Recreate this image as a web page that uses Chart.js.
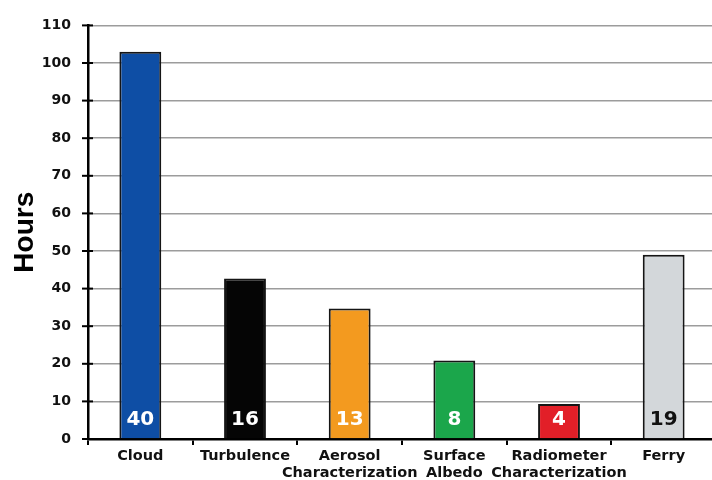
<!DOCTYPE html>
<html><head><meta charset="utf-8">
<script src="https://cdn.jsdelivr.net/npm/chart.js@4.4.1/dist/chart.umd.min.js"></script>
<style>
html,body{margin:0;padding:0;background:#fff;overflow:hidden;}
#wrap{width:720px;height:480px;position:relative;}
</style></head>
<body><div id="wrap"><canvas id="c"></canvas></div>
<script>
const categories = [['Cloud'], ['Turbulence'], ['Aerosol','Characterization'], ['Surface','Albedo'], ['Radiometer','Characterization'], ['Ferry']];
const hours = [103, 42.7, 34.7, 20.9, 9.3, 49.0];
const barLabels = ['40', '16', '13', '8', '4', '19'];
const barColors = ['#0e4ea5', '#050505', '#f39a1f', '#1ba64b', '#e21f28', '#d3d7da'];
const labelColors = ['#ffffff', '#ffffff', '#ffffff', '#ffffff', '#ffffff', '#111111'];
const yTitle = 'Hours';

const tickMarks = {
  id: 'tickMarks',
  afterDatasetsDraw(chart) {
    const y = chart.scales.y, ctx = chart.ctx;
    const ax = chart.chartArea.left;
    ctx.save();
    ctx.strokeStyle = '#000';
    ctx.lineWidth = 2;
    y.ticks.forEach(t => {
      const py = y.getPixelForValue(t.value);
      const major = t.value % 10 === 0;
      ctx.beginPath();
      ctx.moveTo(major ? ax - 6 : ax, py);
      ctx.lineTo(ax + 5, py);
      ctx.stroke();
    });
    const meta = chart.getDatasetMeta(0);
    const zero = y.getPixelForValue(0);
    ctx.font = 'bold 20px "DejaVu Sans"';
    ctx.textAlign = 'center';
    ctx.textBaseline = 'middle';
    meta.data.forEach((bar, i) => {
      ctx.fillStyle = labelColors[i];
      ctx.fillText(barLabels[i], bar.x, zero - 19);
    });
    ctx.restore();
  }
};

new Chart(document.getElementById('c'), {
  type: 'bar',
  data: {
    labels: categories,
    datasets: [{
      data: hours,
      backgroundColor: barColors,
      borderColor: '#151515',
      borderWidth: 2,
      barPercentage: 0.4,
      categoryPercentage: 1.0
    }]
  },
  options: {
    responsive: true,
    maintainAspectRatio: false,
    animation: false,
    layout: { padding: { top: 17, right: 4, left: 0, bottom: 0 } },
    plugins: { legend: { display: false }, tooltip: { enabled: false } },
    scales: {
      x: {
        afterFit(s) { s.height = 41; },
        grid: { display: true, offset: true, drawOnChartArea: false, drawTicks: true, tickLength: 6, color: '#000', lineWidth: 2 },
        border: { display: true, color: '#000', width: 2.5 },
        ticks: { color: '#111', padding: 3, font: { family: '"DejaVu Sans"', weight: 'bold', size: 14.5, lineHeight: 1.17 }, maxRotation: 0, autoSkip: false }
      },
      y: {
        min: 0, max: 110,
        afterFit(s) { s.width = 88; },
        grid: {
          drawTicks: false,
          lineWidth: 1.5,
          color: (c) => (c.tick && c.tick.value % 10 === 0 && c.tick.value !== 0) ? '#9c9c9c' : 'rgba(0,0,0,0)'
        },
        border: { display: true, color: '#000', width: 2.5 },
        ticks: {
          stepSize: 5, padding: 17, color: '#111',
          font: { family: '"DejaVu Sans"', weight: 'bold', size: 14 },
          callback: (v) => (v % 10 === 0 ? String(v) : '')
        },
        title: { display: true, text: yTitle, color: '#000', padding: { top: 8, bottom: 0 }, font: { family: '"Liberation Sans"', weight: 'bold', size: 28 } }
      }
    }
  },
  plugins: [tickMarks]
});
</script></body></html>
